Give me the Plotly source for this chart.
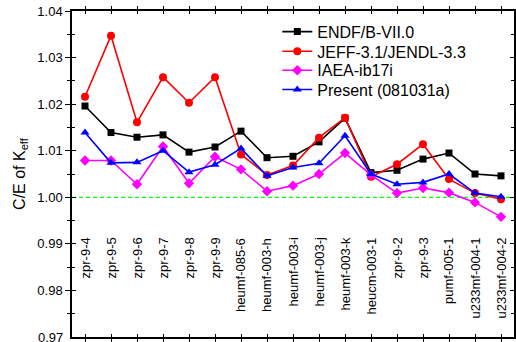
import plotly.graph_objects as go

# Benchmark cases
cases = ["zpr-9-4", "zpr-9-5", "zpr-9-6", "zpr-9-7", "zpr-9-8", "zpr-9-9",
         "heumf-085-6", "heumf-003-h", "heumf-003-i", "heumf-003-j", "heumf-003-k",
         "heucm-003-1", "zpr-9-2", "zpr-9-3", "pumf-005-1", "u233mf-004-1", "u233mf-004-2"]

# C/E of k_eff per library
endf = [1.0196, 1.0139, 1.0129, 1.0134, 1.0097, 1.0108, 1.0142, 1.0085, 1.0088,
        1.0119, 1.0170, 1.0053, 1.0058, 1.0082, 1.0095, 1.0050, 1.0046]
jeff = [1.0216, 1.0347, 1.0161, 1.0258, 1.0203, 1.0258, 1.0092, 1.0048, 1.0068,
        1.0128, 1.0171, 1.0044, 1.0071, 1.0114, 1.0039, 1.0009, 0.9996]
iaea = [1.0079, 1.0079, 1.0028, 1.0109, 1.0030, 1.0087, 1.0060, 1.0013, 1.0025,
        1.0050, 1.0095, 1.0048, 1.0009, 1.0020, 1.0010, 0.9989, 0.9958]
present = [1.0139, 1.0074, 1.0075, 1.0100, 1.0054, 1.0070, 1.0105, 1.0046, 1.0064,
           1.0073, 1.0132, 1.0050, 1.0028, 1.0032, 1.0050, 1.0009, 1.0001]

series = [
    ("ENDF/B-VII.0", endf, "black", "square", 7),
    ("JEFF-3.1/JENDL-3.3", jeff, "#ff0000", "circle", 8),
    ("IAEA-ib17i", iaea, "#ff00ff", "diamond", 8),
    ("Present (081031a)", present, "#0000ff", "triangle-up", 8),
]

y_ticks = [0.97, 0.98, 0.99, 1.00, 1.01, 1.02, 1.03, 1.04]
FONT = "Liberation Sans, Arial, sans-serif"

x_idx = list(range(len(cases)))
fig = go.Figure()

# reference line at C/E = 1
fig.add_trace(go.Scatter(x=[-0.5, len(cases) - 0.5], y=[1.0, 1.0], mode="lines",
                         line=dict(color="#00ff00", width=1.3, dash="4px,3px"),
                         showlegend=False, hoverinfo="skip"))

# one legend box per series so that the rows sit close together
legend_ids = ["legend", "legend2", "legend3", "legend4"]
legend_rows = [0.9365, 0.876, 0.818, 0.759]

for (name, vals, color, sym, size), lid in zip(series, legend_ids):
    fig.add_trace(go.Scatter(x=x_idx, y=vals, name=name, mode="lines+markers",
                             line=dict(color=color, width=1.6),
                             marker=dict(color=color, symbol=sym, size=size),
                             legend=lid))

# case names written vertically inside the plot area
for i, c in enumerate(cases):
    fig.add_annotation(x=i, y=0.9917, text=c, textangle=-90, showarrow=False,
                       xanchor="center", yanchor="top",
                       font=dict(family=FONT, size=13, color="black"))

# bottom tick label, placed by hand so it is not dropped at the page edge
fig.add_annotation(x=0, xref="paper", y=y_ticks[0], yref="y", text=f"{y_ticks[0]:.2f}",
                   showarrow=False, xanchor="right", yanchor="middle", xshift=-7,
                   font=dict(family=FONT, size=13, color="black"))

axis_line = dict(showline=True, linecolor="black", linewidth=1.5, showgrid=False, zeroline=False)

legend_style = dict(x=0.4645, xanchor="left", yanchor="middle",
                    bgcolor="rgba(0,0,0,0)", borderwidth=0,
                    font=dict(family=FONT, size=16, color="black"))

fig.update_layout(
    width=516, height=342,
    margin=dict(l=72, r=0, t=11, b=5),
    paper_bgcolor="white", plot_bgcolor="white",
    font=dict(family=FONT, size=13, color="black"),
    showlegend=True,
    xaxis=dict(range=[-0.5, len(cases) - 0.5], tickmode="array", tickvals=x_idx,
               showticklabels=False, ticks="inside", ticklen=3, tickcolor="black",
               mirror="allticks", **axis_line),
    yaxis=dict(range=[0.97, 1.04], tickmode="array", tickvals=y_ticks[1:],
               ticktext=[f"{v:.2f}" for v in y_ticks[1:]],
               ticks="outside", ticklen=5, tickwidth=1.2, tickcolor="black",
               minor=dict(tickmode="array", tickvals=[v + 0.005 for v in y_ticks[:-1]],
                          ticks="outside", ticklen=3, tickcolor="black"),
               tickfont=dict(size=13), mirror=True,
               title=dict(text="C/E of K<sub>eff</sub>", font=dict(size=16), standoff=8),
               **axis_line),
    yaxis2=dict(range=[0.97, 1.04], overlaying="y", side="left", tickmode="array",
                tickvals=y_ticks, showticklabels=False, ticks="inside", ticklen=4,
                tickcolor="black", mirror="allticks",
                minor=dict(tickmode="array", tickvals=[v + 0.005 for v in y_ticks[:-1]],
                           ticks="inside", ticklen=3, tickcolor="black"),
                showgrid=False, zeroline=False, showline=False),
)

for lid, row in zip(legend_ids, legend_rows):
    fig.update_layout({lid: dict(y=row, **legend_style)})

# invisible trace that brings the inner tick axis into existence
fig.add_trace(go.Scatter(x=[0], y=[1.0], yaxis="y2", mode="markers",
                         marker=dict(opacity=0), showlegend=False, hoverinfo="skip"))

fig.write_html("out.html")
